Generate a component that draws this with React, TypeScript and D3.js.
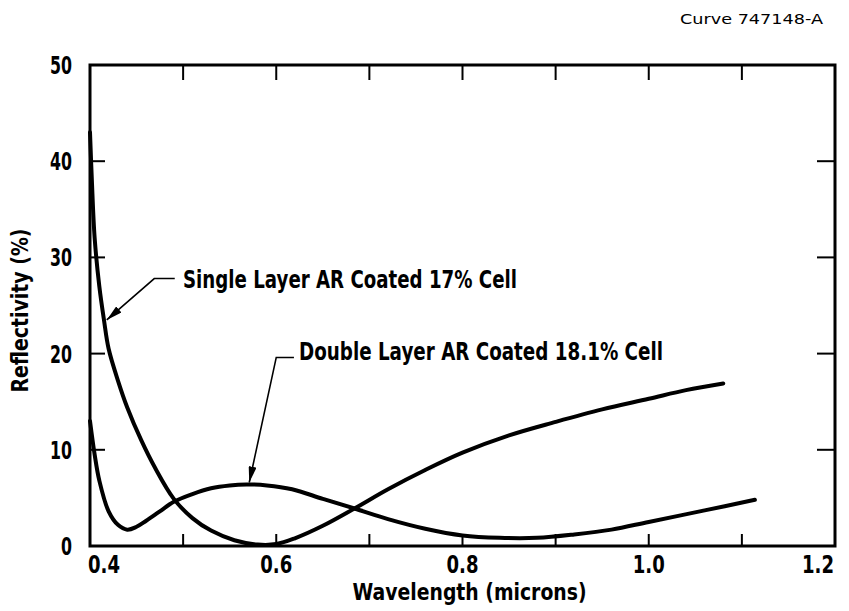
import * as d3 from "d3";

// Single layer AR coated 17% cell: [wavelength (microns), reflectivity (%)]
const singleLayer: [number, number][] = [
  [0.4, 43], [0.402, 38], [0.405, 32], [0.41, 27], [0.415, 23.5], [0.42, 20.5],
  [0.43, 17.2], [0.44, 14.4], [0.455, 11.0], [0.47, 8.1], [0.49, 4.9], [0.51, 2.9],
  [0.53, 1.6], [0.555, 0.6], [0.58, 0.15], [0.6, 0.2], [0.62, 0.8], [0.65, 2.1],
  [0.684, 3.9], [0.72, 5.9], [0.76, 7.9], [0.8, 9.7], [0.85, 11.5], [0.9, 12.9],
  [0.95, 14.2], [1.0, 15.3], [1.04, 16.2], [1.08, 16.9],
];

// Double layer AR coated 18.1% cell
const doubleLayer: [number, number][] = [
  [0.4, 13], [0.405, 9.5], [0.41, 6.8], [0.42, 3.6], [0.43, 2.2], [0.44, 1.7],
  [0.45, 2.0], [0.46, 2.6], [0.475, 3.6], [0.49, 4.6], [0.51, 5.4], [0.53, 6.0],
  [0.55, 6.3], [0.568, 6.4], [0.59, 6.3], [0.617, 5.9], [0.65, 4.9], [0.684, 3.9],
  [0.72, 2.8], [0.76, 1.8], [0.8, 1.1], [0.84, 0.85], [0.88, 0.85], [0.92, 1.2],
  [0.96, 1.7], [1.0, 2.5], [1.06, 3.7], [1.114, 4.8],
];

const xTicks = [0.4, 0.5, 0.6, 0.7, 0.8, 0.9, 1.0, 1.1, 1.2];
const xLabels = ["0.4", "0.6", "0.8", "1.0", "1.2"];
const yTicks = [0, 10, 20, 30, 40, 50];

// leader lines: [text start, elbow, arrow tip] in data units
const singleLeader: [number, number][] = [[0.491, 27.8], [0.469, 27.8], [0.418, 23.5]];
const doubleLeader: [number, number][] = [[0.619, 19.6], [0.6, 19.6], [0.571, 6.6]];

const W = 849;
const H = 611;
const margin = { top: 65, right: 14, bottom: 65, left: 90 };

const font = "'DejaVu Sans', 'Liberation Sans', sans-serif";

export default function App() {
  const x = d3.scaleLinear().domain([0.4, 1.2]).range([margin.left, W - margin.right]);
  const y = d3.scaleLinear().domain([0, 50]).range([H - margin.bottom, margin.top]);
  const line = d3
    .line<[number, number]>()
    .x((d) => x(d[0]))
    .y((d) => y(d[1]))
    .curve(d3.curveCatmullRom.alpha(0.5));
  const leader = d3
    .line<[number, number]>()
    .x((d) => x(d[0]))
    .y((d) => y(d[1]));

  const [x0, x1] = x.range();
  const [y0, y1] = y.range();
  const tick = 15;

  return (
    <svg
      width={W}
      height={H}
      style={{ position: "absolute", left: 0, top: 0, background: "#fff" }}
    >
      <defs>
        <marker
          id="arrow"
          viewBox="0 0 16 8"
          refX={16}
          refY={4}
          markerWidth={16}
          markerHeight={8}
          markerUnits="userSpaceOnUse"
          orient="auto"
        >
          <path d="M0,0 L16,4 L0,8 Z" fill="#000" />
        </marker>
      </defs>

      <text x={680} y={24} fontFamily={font} fontSize={14} textLength={143} lengthAdjust="spacingAndGlyphs">
        Curve 747148-A
      </text>

      {/* frame */}
      <rect x={x0} y={y1} width={x1 - x0} height={y0 - y1} fill="none" stroke="#000" strokeWidth={3} />

      {/* ticks on all four sides, pointing inward */}
      {xTicks.slice(1, -1).map((t) => (
        <g key={"xt" + t} stroke="#000" strokeWidth={2}>
          <line x1={x(t)} x2={x(t)} y1={y0} y2={y0 - 12} />
          <line x1={x(t)} x2={x(t)} y1={y1} y2={y1 + tick} />
        </g>
      ))}
      {yTicks.slice(1, -1).map((t) => (
        <g key={"yt" + t} stroke="#000" strokeWidth={2}>
          <line x1={x0} x2={x0 + tick} y1={y(t)} y2={y(t)} />
          <line x1={x1} x2={x1 - tick - 3} y1={y(t)} y2={y(t)} />
        </g>
      ))}

      {/* tick labels */}
      {yTicks.map((t) => (
        <text
          key={"yl" + t}
          x={x0 - 18}
          y={y(t)}
          dy="0.36em"
          textAnchor="end"
          fontFamily={font}
          fontWeight="bold"
          fontSize={25}
          textLength={String(t).length * 11}
          lengthAdjust="spacingAndGlyphs"
        >
          {t}
        </text>
      ))}
      {xLabels.map((l, i) => (
        <text
          key={"xl" + l}
          x={x(+l) + (i === 0 ? 14 : i === xLabels.length - 1 ? -17 : 0)}
          y={y0 + 27}
          textAnchor="middle"
          fontFamily={font}
          fontWeight="bold"
          fontSize={24}
          textLength={32}
          lengthAdjust="spacingAndGlyphs"
        >
          {l}
        </text>
      ))}

      {/* axis titles */}
      <text
        transform={`translate(28,${(y0 + y1) / 2 + 5}) rotate(-90)`}
        textAnchor="middle"
        fontFamily={font}
        fontWeight="bold"
        fontSize={23}
        textLength={164}
        lengthAdjust="spacingAndGlyphs"
      >
        Reflectivity (%)
      </text>
      <text
        x={(x0 + x1) / 2 + 7}
        y={600}
        textAnchor="middle"
        fontFamily={font}
        fontWeight="bold"
        fontSize={23}
        textLength={234}
        lengthAdjust="spacingAndGlyphs"
      >
        Wavelength (microns)
      </text>

      {/* curves */}
      <path d={line(singleLayer) ?? ""} fill="none" stroke="#000" strokeWidth={4} strokeLinecap="round" />
      <path d={line(doubleLayer) ?? ""} fill="none" stroke="#000" strokeWidth={4} strokeLinecap="round" />

      {/* annotations */}
      <path d={leader(singleLeader) ?? ""} fill="none" stroke="#000" strokeWidth={1.6} markerEnd="url(#arrow)" />
      <path d={leader(doubleLeader) ?? ""} fill="none" stroke="#000" strokeWidth={1.6} markerEnd="url(#arrow)" />
      <text x={183} y={288} fontFamily={font} fontWeight="bold" fontSize={24} textLength={334} lengthAdjust="spacingAndGlyphs">
        Single Layer AR Coated 17% Cell
      </text>
      <text x={299} y={360} fontFamily={font} fontWeight="bold" fontSize={24} textLength={364} lengthAdjust="spacingAndGlyphs">
        Double Layer AR Coated 18.1% Cell
      </text>
    </svg>
  );
}
